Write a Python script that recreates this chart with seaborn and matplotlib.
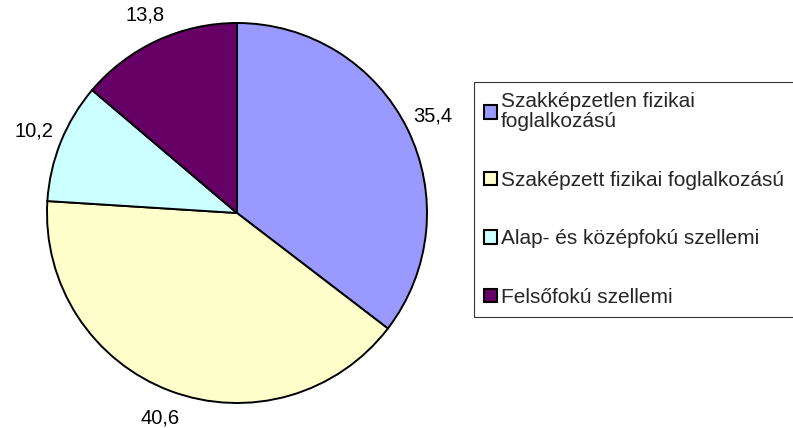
import matplotlib
matplotlib.use("Agg")
import matplotlib.pyplot as plt
import seaborn as sns

# data
categories = ["Szakképzetlen fizikai\nfoglalkozású",
              "Szaképzett fizikai foglalkozású",
              "Alap- és középfokú szellemi",
              "Felsőfokú szellemi"]
values = [35.4, 40.6, 10.2, 13.8]
colors = ["#9999FF", "#FFFFCC", "#CCFFFF", "#660066"]

sns.set_theme(style="white")
plt.rcParams["font.family"] = ["Liberation Sans", "DejaVu Sans"]

fig = plt.figure(figsize=(7.93, 4.28), dpi=100)
ax = fig.add_axes([47 / 793, 25 / 428, 380 / 793, 380 / 428])

wedges, texts, autotexts = ax.pie(
    values, colors=colors, startangle=90, counterclock=False,
    autopct=lambda p: f"{p:.1f}".replace(".", ","), pctdistance=1.15,
    wedgeprops=dict(edgecolor="black", linewidth=1.4),
    textprops=dict(fontsize=14.5, color="black"))
ax.set_xlim(-1, 1)
ax.set_ylim(-1, 1)
ax.set_aspect("equal")

leg = fig.legend(wedges, categories, loc="upper left",
                 bbox_to_anchor=(474 / 793, 1 - 82 / 428),
                 frameon=True, fancybox=False, edgecolor="black",
                 fontsize=15, handlelength=0.6, handleheight=0.6,
                 handletextpad=0.2, labelspacing=1.9, borderpad=0.5,
                 borderaxespad=0)
leg.get_frame().set_linewidth(0.8)
for t in leg.get_texts():
    t.set_linespacing(1.05)
for h in leg.legend_handles:
    h.set_edgecolor("black")
    h.set_linewidth(1.5)

fig.savefig("out.png", dpi=100)
